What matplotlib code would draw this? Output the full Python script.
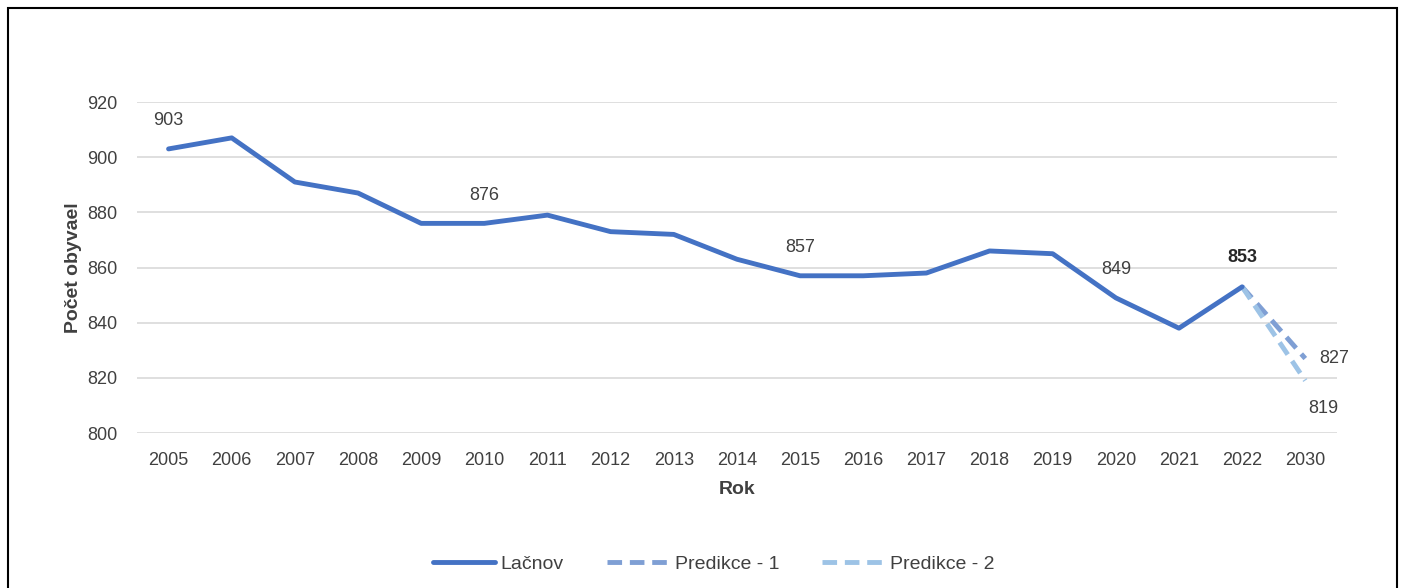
import matplotlib.pyplot as plt
from matplotlib.patches import Rectangle

years = ["2005", "2006", "2007", "2008", "2009", "2010", "2011", "2012", "2013",
         "2014", "2015", "2016", "2017", "2018", "2019", "2020", "2021", "2022", "2030"]
lacnov = [903, 907, 891, 887, 876, 876, 879, 873, 872, 863, 857, 857, 858, 866, 865, 849, 838, 853]
pred1 = [853, 827]
pred2 = [853, 819]
labeled = {0: "903", 5: "876", 10: "857", 15: "849"}

plt.rcParams['font.family'] = ['Liberation Sans Narrow', 'Liberation Sans', 'DejaVu Sans']
txt = "#404040"

fig = plt.figure(figsize=(14.05, 5.88), dpi=100)
ax = fig.add_axes([0.0975, 0.2636, 0.854, 0.5629])

x = list(range(len(years)))
ax.plot(x[:len(lacnov)], lacnov, color="#4472c4", lw=3.5, solid_capstyle="round", label="Lačnov", zorder=3)
ax.plot(x[17:19], pred1, color="#7f9fd4", lw=3.5, ls=(0, (3, 1.6)), label="Predikce - 1", zorder=2)
ax.plot(x[17:19], pred2, color="#9dc3e6", lw=3.5, ls=(0, (3, 1.6)), label="Predikce - 2", zorder=2)

for i, s in labeled.items():
    ax.annotate(s, (i, lacnov[i]), xytext=(0, 14), textcoords="offset points",
                ha="center", va="bottom", fontsize=13, color=txt)
ax.annotate("853", (17, lacnov[17]), xytext=(0, 15), textcoords="offset points",
            ha="center", va="bottom", fontsize=13, color="#262626", fontweight="bold")
ax.annotate("827", (18, pred1[1]), xytext=(10, 0), textcoords="offset points",
            ha="left", va="center", fontsize=13, color=txt)
ax.annotate("819", (18, pred2[1]), xytext=(2, -14), textcoords="offset points",
            ha="left", va="top", fontsize=13, color=txt)

ax.set_xlim(-0.5, len(years) - 0.5)
ax.set_ylim(800, 920)
ax.set_yticks(range(800, 921, 20))
ax.set_xticks(x)
ax.set_xticklabels(years)
ax.tick_params(length=0, labelsize=13, labelcolor=txt, pad=14)
ax.tick_params(axis="y", pad=14)
ax.grid(axis="y", color="#d9d9d9", lw=1.2)
ax.set_axisbelow(True)
for sp in ax.spines.values():
    sp.set_visible(False)

ax.set_xlabel("Rok", fontsize=14, fontweight="bold", color=txt, labelpad=8)
ax.set_ylabel("Počet obyvael", fontsize=14, fontweight="bold", color=txt, labelpad=4)

fig.legend(loc="center", bbox_to_anchor=(0.508, 0.04), ncol=3, frameon=False,
           fontsize=14, labelcolor=txt, handlelength=3.2, columnspacing=2.2, handletextpad=0.3)

fig.patches.append(Rectangle((0.006, -0.01), 0.988, 0.996, transform=fig.transFigure,
                             fill=False, edgecolor="black", lw=1.5))

fig.savefig("out.png", dpi=100)
